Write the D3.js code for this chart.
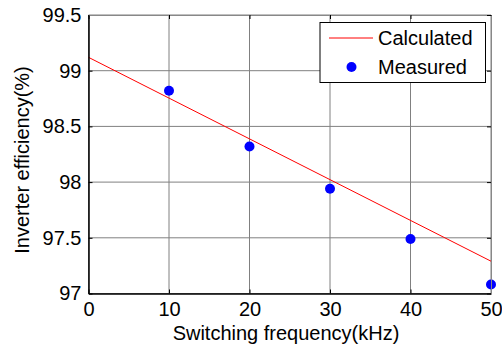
<!DOCTYPE html>
<html>
<head>
<meta charset="utf-8">
<script src="https://d3js.org/d3.v7.min.js"></script>
<style>
  body { margin: 0; background: #fff; }
  svg text { font-family: Arial, "Liberation Sans", sans-serif; fill: #000; }
  .grid line { stroke: #808080; stroke-width: 1; }
</style>
</head>
<body>
<div id="chart"></div>
<script>
// measured vs calculated inverter efficiency
var measFreq = [10, 20, 30, 40, 50];
var measEff = [98.82, 98.32, 97.94, 97.49, 97.08];
var calcFreq = [0, 50];
var calcEff = [99.12, 97.29];
var xTicks = [0, 10, 20, 30, 40, 50];
var yTicks = [97, 97.5, 98, 98.5, 99, 99.5];

var W = 502, H = 349;
var mLeft = 88.5, mRight = 491, mTop = 15, mBottom = 293.5;
var fs = 20;

var svg = d3.select("#chart").append("svg")
  .attr("width", W).attr("height", H);

var x = d3.scaleLinear().domain([0, 50]).range([mLeft, mRight]);
var y = d3.scaleLinear().domain([97, 99.5]).range([mBottom, mTop]);

// grid
var grid = svg.append("g").attr("class", "grid");
grid.selectAll(".gx").data(xTicks).enter().append("line")
  .attr("x1", d => x(d)).attr("x2", d => x(d))
  .attr("y1", mTop).attr("y2", mBottom);
grid.selectAll(".gy").data(yTicks).enter().append("line")
  .attr("x1", mLeft).attr("x2", mRight)
  .attr("y1", d => y(d)).attr("y2", d => y(d));

// calculated line
var line = d3.line().x(d => x(d[0])).y(d => y(d[1]));
svg.append("path")
  .datum(d3.zip(calcFreq, calcEff))
  .attr("d", line)
  .attr("fill", "none")
  .attr("stroke", "#ff0000")
  .attr("stroke-width", 1);

// measured points
svg.selectAll(".pt").data(d3.zip(measFreq, measEff)).enter().append("circle")
  .attr("cx", d => x(d[0])).attr("cy", d => y(d[1]))
  .attr("r", 5).attr("fill", "#0000ff");

// axes
var xAxis = d3.axisBottom(x).tickValues(xTicks).tickSizeInner(-4).tickSizeOuter(0).tickPadding(6);
var yAxis = d3.axisLeft(y).tickValues(yTicks).tickFormat(d3.format("~g")).tickSizeInner(-4).tickSizeOuter(0).tickPadding(6);

var gx = svg.append("g").attr("transform", "translate(0," + mBottom + ")").call(xAxis);
var gy = svg.append("g").attr("transform", "translate(" + mLeft + ",0)").call(yAxis);
[gx, gy].forEach(function(g) {
  g.select(".domain").attr("stroke", "#000").attr("stroke-width", 1.5);
  g.selectAll(".tick line").attr("stroke", "#000");
  g.selectAll("text").attr("font-size", fs).attr("font-family", "Arial, 'Liberation Sans', sans-serif");
});
gx.selectAll("text").attr("dy", "0.8em");
gy.selectAll("text").attr("dx", "-1");

// top and right ticks
var gt = svg.append("g").attr("transform", "translate(0," + mTop + ")")
  .call(d3.axisTop(x).tickValues(xTicks).tickSizeInner(-4).tickSizeOuter(0).tickFormat(""));
var gr = svg.append("g").attr("transform", "translate(" + mRight + ",0)")
  .call(d3.axisRight(y).tickValues(yTicks).tickSizeInner(-4).tickSizeOuter(0).tickFormat(""));
[gt, gr].forEach(function(g) {
  g.select(".domain").attr("stroke", "#888");
  g.selectAll(".tick line").attr("stroke", "#000");
});

// axis titles
svg.append("text")
  .attr("x", 286).attr("y", 340)
  .attr("text-anchor", "middle").attr("font-size", fs)
  .text("Switching frequency(kHz)");
svg.append("text")
  .attr("transform", "translate(29," + 160 + ") rotate(-90)")
  .attr("text-anchor", "middle").attr("font-size", fs)
  .text("Inverter efficiency(%)");

// legend
var lg = svg.append("g");
lg.append("rect")
  .attr("x", 320).attr("y", 22.5).attr("width", 165.5).attr("height", 60)
  .attr("fill", "#fff").attr("stroke", "#000").attr("stroke-width", 1);
lg.append("line")
  .attr("x1", 329).attr("x2", 373).attr("y1", 38).attr("y2", 38)
  .attr("stroke", "#ff0000");
lg.append("circle").attr("cx", 351.5).attr("cy", 67).attr("r", 5).attr("fill", "#0000ff");
lg.append("text").attr("x", 378).attr("y", 45).attr("font-size", fs).text("Calculated");
lg.append("text").attr("x", 378).attr("y", 74).attr("font-size", fs).text("Measured");
</script>
</body>
</html>
